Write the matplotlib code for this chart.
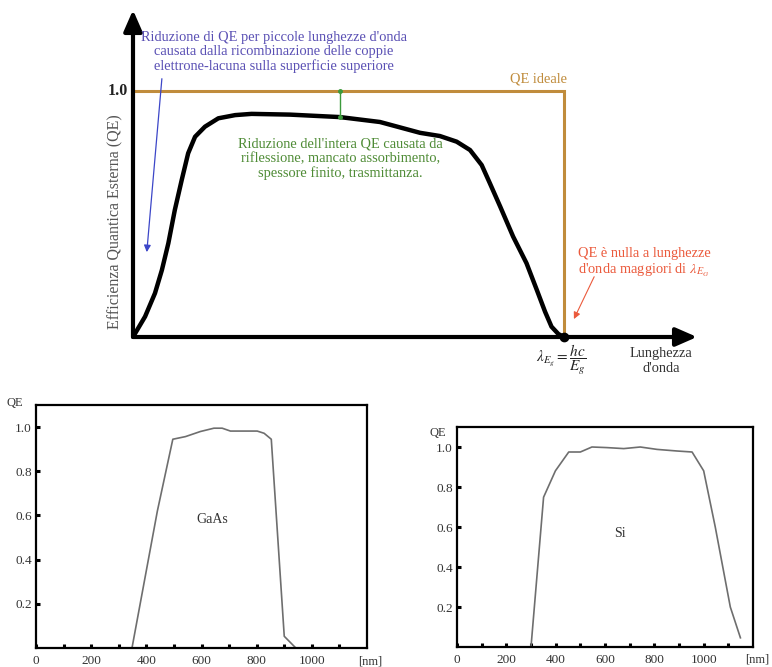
import matplotlib
matplotlib.use("Agg")
import matplotlib.pyplot as plt

plt.rcParams['font.family'] = ['Liberation Serif', 'DejaVu Serif']
plt.rcParams['mathtext.fontset'] = 'stix'

# ---------------- data ----------------
# Top schematic: normalized wavelength (lambda/lambda_Eg) vs external QE
qe_x = [0.0, 0.028, 0.051, 0.067, 0.082, 0.097, 0.113, 0.128, 0.144, 0.167, 0.198,
        0.237, 0.275, 0.364, 0.480, 0.573, 0.666, 0.712, 0.751, 0.782, 0.809, 0.828,
        0.852, 0.882, 0.913, 0.937, 0.956, 0.971, 0.987, 1.0]
qe_y = [0.0, 0.083, 0.178, 0.272, 0.381, 0.516, 0.638, 0.747, 0.814, 0.855, 0.889,
        0.902, 0.907, 0.904, 0.894, 0.874, 0.830, 0.817, 0.794, 0.760, 0.699, 0.625,
        0.530, 0.408, 0.300, 0.191, 0.103, 0.042, 0.012, 0.0]
ideal_x = [0.0, 1.0, 1.0]
ideal_y = [1.0, 1.0, 0.0]

# GaAs QE (nm)
gaas_nm = [348, 440, 496, 542, 596, 645, 675, 705, 742, 802, 827, 853, 900, 942]
gaas_qe = [0.0, 0.62, 0.945, 0.957, 0.98, 0.995, 0.995, 0.982, 0.982, 0.982, 0.972, 0.945, 0.053, 0.0]

# Si QE (nm)
si_nm = [300, 351, 399, 453, 500, 547, 608, 676, 743, 811, 892, 953, 1000, 1047, 1108, 1149]
si_qe = [0.0, 0.749, 0.881, 0.975, 0.975, 1.0, 0.997, 0.992, 1.0, 0.988, 0.98, 0.975, 0.881, 0.6, 0.2, 0.046]

small_yticks = [0.2, 0.4, 0.6, 0.8, 1.0]
small_ytick_labels = ['0.2', '0.4', '0.6', '0.8', '1.0']
small_xticks = [0, 200, 400, 600, 800, 1000]
small_xtick_labels = ['0', '200', '400', '600', '800', '1000']
small_xminor = [100, 300, 500, 700, 900, 1100]

GOLD = '#C08C3C'
BLUE_T = '#5A50B4'
BLUE_L = '#3C46C8'
GREEN = '#4E8B35'
RED = '#EB5A3C'
FS = 10.4

fig = plt.figure(figsize=(7.72, 6.67), dpi=100)

# ---------------- top schematic ----------------
ax = fig.add_axes([133/772, (667-337)/667, (697-133)/772, (337-10)/667])
ax.set_xlim(0, (697-133)/431)
ax.set_ylim(0, (337-10)/246)
ax.axis('off')

ax.plot(ideal_x, ideal_y, color=GOLD, lw=2.2, solid_joinstyle='miter', zorder=2)
ax.plot(qe_x, qe_y, color='black', lw=3.2, solid_capstyle='round',
        solid_joinstyle='round', zorder=3)
ax.plot([1.0], [0.0], 'o', color='black', ms=6, zorder=4, clip_on=False)

arrow_kw = dict(arrowstyle='-|>,head_length=0.8,head_width=0.35', lw=3, color='black',
                shrinkA=0, shrinkB=0, mutation_scale=16)
ax.annotate('', xy=((697-133)/431, 0), xytext=(0, 0), arrowprops=arrow_kw, annotation_clip=False)
ax.annotate('', xy=(0, (337-10)/246), xytext=(0, 0), arrowprops=arrow_kw, annotation_clip=False)

ax.text(-0.012, 1.0, '1.0', ha='right', va='center', fontsize=11.5, fontweight='bold', color='#222222')
ax.text(-0.042, 0.47, 'Efficienza Quantica Esterna (QE)', rotation=90, ha='center', va='center',
        fontsize=11.5, color='#555555')

ax.text(0.326, 1.158, "Riduzione di QE per piccole lunghezze d'onda\ncausata dalla ricombinazione delle coppie\nelettrone-lacuna sulla superficie superiore",
        ha='center', va='center', fontsize=FS, color=BLUE_T, linespacing=1.1)
ax.annotate('', xy=(0.032, 0.345), xytext=(0.067, 1.05),
            arrowprops=dict(arrowstyle='-|>,head_length=0.4,head_width=0.2', lw=0.9, color=BLUE_L,
                            shrinkA=0, shrinkB=0, mutation_scale=10))

ax.text(0.94, 1.022, 'QE ideale', ha='center', va='bottom', fontsize=FS, color=GOLD)

ax.plot([0.481, 0.481], [1.0, 0.894], color='#3C9A3C', lw=1.0, marker='o', ms=2.5, zorder=5)
ax.text(0.481, 0.725, "Riduzione dell'intera QE causata da\nriflessione, mancato assorbimento,\nspessore finito, trasmittanza.",
        ha='center', va='center', fontsize=FS, color=GREEN, linespacing=1.1)

ax.text(1.033, 0.30, "QE è nulla a lunghezze\nd'onda maggiori di $\\lambda_{E_G}$",
        ha='left', va='center', fontsize=FS, color=RED, linespacing=1.2)
ax.annotate('', xy=(1.023, 0.073), xytext=(1.07, 0.245),
            arrowprops=dict(arrowstyle='-|>,head_length=0.4,head_width=0.2', lw=0.8, color=RED,
                            shrinkA=0, shrinkB=0, mutation_scale=10))

ax.text(0.995, -0.02, r'$\lambda_{E_g} = \dfrac{hc}{E_g}$', ha='center', va='top',
        fontsize=11, color='#222222')
ax.text(1.226, -0.04, "Lunghezza\nd'onda", ha='center', va='top', fontsize=FS,
        color='#333333', linespacing=1.25)


# ---------------- small panels ----------------
def small_panel(rect, xs, ys, label, label_xy, nm_x, qe_y_ax):
    a = fig.add_axes(rect)
    a.plot(xs, ys, color='#6E6E6E', lw=1.2)
    a.set_xlim(0, 1200)
    a.set_ylim(0, 1.1)
    a.set_yticks(small_yticks)
    a.set_yticklabels(small_ytick_labels)
    a.set_xticks(small_xticks)
    a.set_xticklabels(small_xtick_labels)
    a.set_xticks(small_xminor, minor=True)
    a.tick_params(axis='both', which='both', direction='in', length=3, width=2.2,
                  labelsize=9.5, labelcolor='#333333')
    a.tick_params(axis='x', which='both', pad=5)
    a.tick_params(axis='y', pad=3)
    for s in a.spines.values():
        s.set_linewidth(1.6)
    a.text(label_xy[0], label_xy[1], label, ha='center', va='center', fontsize=10, color='#333333')
    a.text(nm_x, -0.035, '[nm]', ha='center', va='top', fontsize=9, color='#333333',
           clip_on=False)
    a.text(-0.065, qe_y_ax, 'QE', transform=a.transAxes, ha='center', va='center',
           fontsize=9, color='#333333')
    return a

small_panel([36/772, (667-648)/667, (367-36)/772, (648-405)/667],
            gaas_nm, gaas_qe, 'GaAs', (639, 0.58), 1211, 1.01)
small_panel([457/772, (667-647)/667, (753-457)/772, (647-427)/667],
            si_nm, si_qe, 'Si', (662, 0.567), 1215, 0.975)

fig.savefig('out.png', dpi=100)
